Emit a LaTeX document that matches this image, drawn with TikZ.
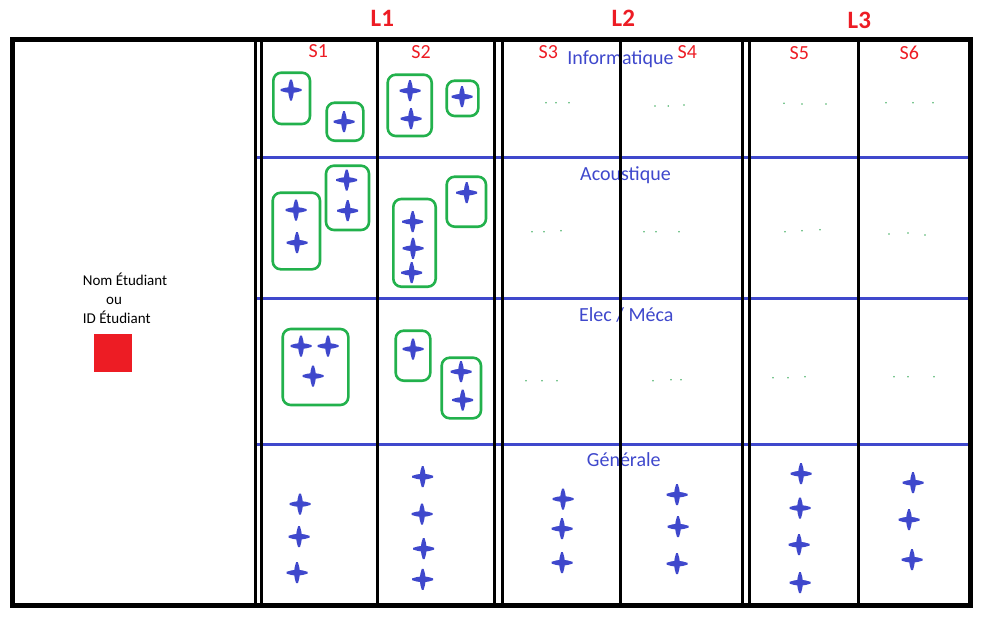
\documentclass[tikz,border=0pt]{standalone}
\usepackage{fontspec}
\setmainfont{Carlito}
\definecolor{pblue}{HTML}{3F48CC}
\definecolor{pgreen}{HTML}{22B14C}
\definecolor{pred}{HTML}{ED1C24}
\definecolor{pdot}{HTML}{4DB36A}
\tikzset{
  frame/.style={line width=5pt},
  vline/.style={line width=3pt},
  hline/.style={pblue,line width=3pt},
  grp/.style={pgreen,line width=2.6pt,rounded corners=8pt},
  lvl/.style={pred,font=\fontsize{25}{28}\selectfont\bfseries,anchor=base,inner sep=0pt},
  sem/.style={pred,font=\fontsize{20}{22}\selectfont,anchor=base,inner sep=0pt},
  dom/.style={pblue,font=\fontsize{20}{22}\selectfont,anchor=base,inner sep=0pt},
  lbl/.style={font=\fontsize{15}{18}\selectfont,anchor=base west,inner sep=0pt},
}
\newcommand{\crs}[2]{\fill[pblue,shift={(#1,#2)}] (10.5,0.9) -- (6,2.2) -- (2.7,2.7) -- (2.2,6) -- (0.9,10.5) -- (-0.9,10.5) -- (-2.2,6) -- (-2.7,2.7) -- (-6,2.2) -- (-10.5,0.9) -- (-10.5,-0.9) -- (-6,-2.2) -- (-2.7,-2.7) -- (-2.2,-6) -- (-0.9,-10.5) -- (0.9,-10.5) -- (2.2,-6) -- (2.7,-2.7) -- (6,-2.2) -- (10.5,-0.9) -- cycle;}
\newcommand{\dt}[2]{\fill[pdot] (#1,#2) circle (0.9);}
\begin{document}
\begin{tikzpicture}[x=1pt,y=-1pt]
\useasboundingbox (0,0) rectangle (1005,635);
% texts under lines
\node[dom] (info) at (620.5,64) {Informatique};
\node[dom] (acou) at (625.5,180) {Acoustique};
\node[dom] (elec) at (626.3,321) {Elec / Méca};
\node[dom] (gene) at (623.8,466.7) {Générale};
% blue horizontal lines
\draw[hline] (254,157.5) -- (968,157.5);
\draw[hline] (254,298) -- (968,298);
\draw[hline] (254,444.3) -- (968,444.3);
% black vertical lines
\foreach \x in {255.5,261.5,377.5,494.5,502,620.5,742,749,858.7}
  \draw[vline] (\x,39.5) -- (\x,605.5);
\draw[frame] (12.5,39.5) rectangle (970,605.5);
% level labels
\node[lvl] (l1) at (382.3,26.7) {L1};
\node[lvl] (l2) at (623.3,26.7) {L2};
\node[lvl] (l3) at (859.3,28.3) {L3};
% semester labels
\node[sem] (s1) at (318.3,57.8) {S1};
\node[sem] (s2) at (421,58) {S2};
\node[sem] (s3) at (548.3,58.3) {S3};
\node[sem] (s4) at (687.3,58) {S4};
\node[sem] (s5) at (799.3,59.3) {S5};
\node[sem] (s6) at (909.3,59.3) {S6};
% student label
\node[lbl] (nom) at (82.7,285) {Nom Étudiant};
\node[font=\fontsize{15}{18}\selectfont,anchor=base,inner sep=0pt] (ou) at (114,304) {ou};
\node[lbl] (id) at (82.7,323.3) {ID Étudiant};
\fill[pred] (94,334) rectangle (132,372);
% groups
\draw[grp] (273.3,72.7) rectangle (310,124);
\draw[grp] (326.7,102.7) rectangle (363.3,140.7);
\draw[grp] (387.7,74.7) rectangle (431.7,136);
\draw[grp] (446.7,80.7) rectangle (478.3,116);
\draw[grp] (272.7,192.7) rectangle (320,269.3);
\draw[grp] (326,165.7) rectangle (369,230);
\draw[grp] (393.3,199) rectangle (435.7,286.7);
\draw[grp] (446.7,176.7) rectangle (486,226.7);
\draw[grp] (282.7,329) rectangle (348.3,405);
\draw[grp] (395.7,330.7) rectangle (430.3,380.7);
\draw[grp] (441.7,357.7) rectangle (481,418.3);
% crosses
\crs{291}{90} \crs{344}{121.7} \crs{410}{90.7} \crs{411}{118.7} \crs{462}{96.7}
\crs{296}{210} \crs{297}{242.7} \crs{346.7}{180} \crs{347.7}{210.7}
\crs{412.7}{221.7} \crs{413}{248.3} \crs{411.7}{272.7} \crs{466.7}{192.7}
\crs{301}{346} \crs{328}{346} \crs{313}{376} \crs{413}{349} \crs{461}{371.7} \crs{462.7}{400}
\crs{300}{504} \crs{299}{536.7} \crs{297}{572.7}
\crs{422.7}{476.7} \crs{422}{514} \crs{423.7}{548.7} \crs{422.7}{579.3}
\crs{563}{499} \crs{562}{528.7} \crs{562}{562.7}
\crs{677}{494.7} \crs{678}{526.7} \crs{677}{563.7}
\crs{801}{473.7} \crs{800}{508} \crs{799}{544.7} \crs{800}{582.7}
\crs{913}{482.7} \crs{909}{519.7} \crs{912}{559.7}
% dots
\dt{546}{102.7}\dt{556}{102.7}\dt{569}{102.7}
\dt{655}{106}\dt{668.3}{106}\dt{684}{105}
\dt{784}{103.3}\dt{802}{104}\dt{826}{104}
\dt{886}{102.7}\dt{913}{102.7}\dt{933}{102.7}
\dt{532}{231.7}\dt{544}{231.7}\dt{561}{230.7}
\dt{644}{231.7}\dt{656}{231.7}\dt{679}{231.7}
\dt{785}{231.7}\dt{802}{230.7}\dt{820}{229.7}
\dt{889}{234}\dt{908}{233}\dt{925}{235}
\dt{526}{380.7}\dt{542}{380.7}\dt{557}{380.7}
\dt{653}{380.7}\dt{671}{379.7}\dt{681}{379.7}
\dt{773}{377.7}\dt{788}{377.7}\dt{805}{376.7}
\dt{894}{376.7}\dt{908}{376.7}\dt{934}{376.7}
\end{tikzpicture}
\end{document}
